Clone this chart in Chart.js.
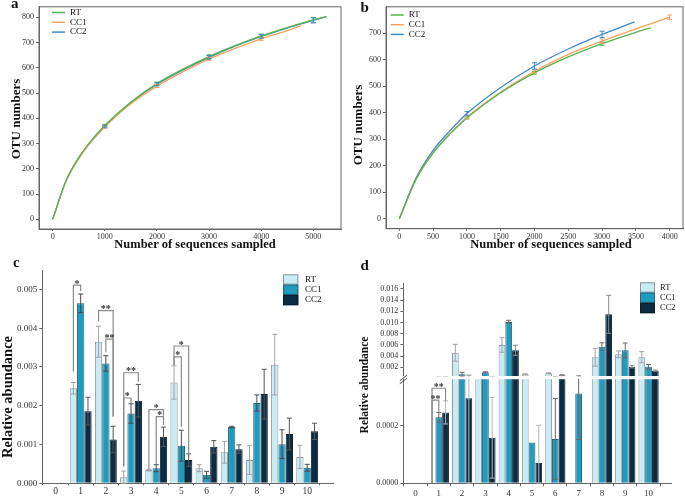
<!DOCTYPE html>
<html>
<head>
<meta charset="utf-8">
<script src="https://cdn.jsdelivr.net/npm/chart.js@4.4.1/dist/chart.umd.min.js"></script>
<style>
  body { margin: 0; background: #fff; }
  #fig { position: relative; width: 685px; height: 496px; overflow: hidden; }
  #fig canvas { position: absolute; }
</style>
</head>
<body>
<div id="fig">
  <canvas id="ca" width="345" height="256" style="left:0;top:0"></canvas>
  <canvas id="cb" width="345" height="256" style="left:340px;top:0"></canvas>
  <canvas id="cc" width="345" height="246" style="left:0;top:250px"></canvas>
  <canvas id="cdu" width="345" height="246" style="left:340px;top:250px"></canvas>
  <canvas id="cdl" width="345" height="246" style="left:340px;top:250px"></canvas>
</div>
<script>
const groups = ['RT', 'CC1', 'CC2'];

// a: rarefaction curves, first sample set
const seqRtA  = [0, 250, 500, 750, 1000, 1500, 2000, 2500, 3000, 3500, 4000, 4500, 5000, 5250];
const rtA     = [0, 150, 245, 315, 372, 465, 538, 595, 645, 688, 727, 760, 790, 803];
const seqCc1A = [0, 250, 500, 750, 1000, 1500, 2000, 2500, 3000, 3500, 4000, 4500, 4760];
const cc1A    = [0, 148, 240, 310, 366, 458, 528, 585, 636, 677, 715, 748, 767];
const seqCc2A = [0, 250, 500, 750, 1000, 1500, 2000, 2500, 3000, 3500, 4000, 4500, 5000, 5250];
const cc2A    = [0, 149, 243, 312, 368, 462, 535, 592, 642, 686, 725, 758, 788, 803];
const errXA   = [1000, 2000, 3000, 4000, 5000];
const rtErrA  = [5, 6, 7, 7, 10];
const cc1ErrA = [5, 6, 6, 6, null];
const cc2ErrA = [5, 6, 7, 7, 10];
const tickXA  = [0, 1000, 2000, 3000, 4000, 5000];
const tickYA  = [0, 100, 200, 300, 400, 500, 600, 700, 800];

// b: rarefaction curves, second sample set
const seqRtB  = [0, 250, 500, 750, 1000, 1500, 2000, 2500, 3000, 3500, 3720];
const rtB     = [0, 150, 248, 320, 380, 475, 550, 610, 660, 703, 720];
const seqCc1B = [0, 250, 500, 750, 1000, 1500, 2000, 2500, 3000, 3500, 4000];
const cc1B    = [0, 150, 248, 321, 383, 478, 556, 620, 670, 716, 760];
const seqCc2B = [0, 250, 500, 750, 1000, 1500, 2000, 2500, 3000, 3480];
const cc2B    = [0, 155, 258, 332, 397, 495, 576, 640, 695, 742];
const errXB   = [1000, 2000, 3000, 4000];
const rtErrB  = [4, 5, 6, null];
const cc1ErrB = [6, 6, 8, 8];
const cc2ErrB = [7, 12, 12, null];
const tickXB  = [0, 500, 1000, 1500, 2000, 2500, 3000, 3500, 4000];
const tickYB  = [0, 100, 200, 300, 400, 500, 600, 700];

// c: relative abundance
const cats = [1, 2, 3, 4, 5, 6, 7, 8, 9, 10];
const tickXC = [0, 1, 2, 3, 4, 5, 6, 7, 8, 9, 10];
const tickYC = [0, 0.001, 0.002, 0.003, 0.004, 0.005];
const rtC    = [0.00245, 0.00365, 0.000155, 0.00034, 0.0026, 0.00039, 0.0008, 0.0006, 0.00306, 0.00068];
const rtCe   = [0.00015, 0.0004, 0.00016, 0.00002, 0.00043, 0.00009, 0.00028, 0.00037, 0.00078, 0.0003];
const cc1C   = [0.00464, 0.00309, 0.0018, 0.00039, 0.00097, 0.00022, 0.00145, 0.00207, 0.00101, 0.0004];
const cc1Ce  = [0.00024, 0.0002, 0.00025, 0.00009, 0.0004, 0.00009, 0.00002, 0.00021, 0.00037, 0.00009];
const cc2C   = [0.00186, 0.00113, 0.00213, 0.0012, 0.0006, 0.00094, 0.00088, 0.0023, 0.00127, 0.00134];
const cc2Ce  = [0.00036, 0.00034, 0.00042, 0.00025, 0.00016, 0.00016, 0.00011, 0.00064, 0.00041, 0.00021];
// significance brackets: category, from group, to group, bar height, left leg end, right leg end, mark
const sigC = [
  [1, 0, 1, 0.00511, 0.00288, 0.00496, '*'],
  [2, 0, 2, 0.00445, 0.00417, 0.00172, '**'],
  [2, 1, 2, 0.00372, 0.00339, 0.00172, '**'],
  [3, 0, 2, 0.00285, 0.00043, 0.00262, '**'],
  [3, 0, 1, 0.0022, 0.00043, 0.00206, '*'],
  [4, 0, 2, 0.0019, 0.00037, 0.00172, '*'],
  [4, 1, 2, 0.00172, 0.00049, 0.0015, '*'],
  [5, 0, 2, 0.00354, 0.00305, 0.00077, '*'],
  [5, 0, 1, 0.00326, 0.00305, 0.00146, '*']
];

// d: relative abundance, broken axis
const tickYDU = [0.002, 0.004, 0.006, 0.008, 0.010, 0.012, 0.014, 0.016];
const tickYDL = [0, 0.0002];
const rtD   = [0, 0.0046, 0.0004, 0.006, 0.00075, 0.00093, 0, 0.0038, 0.00432, 0.0038];
const rtDe  = [0, 0.0015, 0, 0.0013, 0.0001, 0.0001, 0, 0.0016, 0.0006, 0.001];
const cc1D  = [0.000229, 0.00075, 0.0011, 0.0101, 0.000142, 0.000154, 0.000312, 0.00568, 0.00504, 0.0021];
const cc1De = [0.000017, 0.00036, 0.0001, 0.0003, 0, 0.00014, 0.00016, 0.0007, 0.0013, 0.0004];
const cc2D  = [0.000246, 0.000295, 0.000158, 0.00504, 0.0000716, 0.0006, 0, 0.01146, 0.0021, 0.0014];
const cc2De = [0.00004, 0.0003, 0.00014, 0.0009, 0.00013, 0.0001, 0, 0.0034, 0.0002, 0.0001];
const sigD = [
  [1, 0, 2, 0.00033, 0, 0.000286, '**'],
  [1, 0, 1, 0.000289, 0, 0.000248, '**']
];

const serif = "'Liberation Serif', 'Times New Roman', serif";
Chart.defaults.font.family = serif;
Chart.defaults.color = '#333';
const lineColors = ['#56b451', '#f3a35f', '#3f89c6'];
const barColors = ['#c8ebf4', '#1f9bc0', '#0b2c42'];
const barBorders = ['#8d979b', '#2a6478', '#0a1f2e'];

function pts(xs, ys) { return xs.map((x, i) => ({ x: x, y: ys[i] })); }

function drawText(ctx, s, x, y, size, o = {}) {
  ctx.save();
  ctx.font = (o.bold ? 'bold ' : '') + size + 'px ' + serif;
  ctx.fillStyle = o.color || '#111';
  ctx.textAlign = o.align || 'center';
  ctx.textBaseline = o.base || 'middle';
  ctx.translate(x, y);
  if (o.rot) ctx.rotate(o.rot);
  ctx.fillText(s, 0, 0);
  ctx.restore();
}

function linScale(min, max, tickVals, size, width, fmt, tl, pad) {
  return {
    type: 'linear', min: min, max: max,
    ticks: { maxRotation: 0, autoSkip: false, font: { size: size }, padding: pad, callback: fmt },
    grid: { drawOnChartArea: false, tickLength: tl, color: '#666' },
    border: { color: '#666' },
    afterBuildTicks: s => { s.ticks = tickVals.map(v => ({ value: v })); },
    afterFit: s => { if (s.isHorizontal()) s.height = width; else s.width = width; }
  };
}

// frame, error bars, legend and titles of the rarefaction panels
function curveDeco(cfg) {
  return {
    id: 'curveDeco',
    afterDraw(chart) {
      const { ctx, chartArea: a, scales: { x, y } } = chart;
      ctx.save();
      ctx.lineWidth = 1;
      ctx.strokeStyle = '#666';
      ctx.strokeRect(a.left, a.top, a.width, a.height);
      cfg.err.forEach((errs, s) => {
        const xs = cfg.xs[s], ys = cfg.ys[s];
        ctx.strokeStyle = lineColors[s];
        cfg.errX.forEach((ex, k) => {
          const e = errs[k], i = xs.indexOf(ex);
          if (e == null || i < 0) return;
          const px = x.getPixelForValue(ex);
          const y1 = y.getPixelForValue(ys[i] + e), y2 = y.getPixelForValue(ys[i] - e);
          ctx.beginPath();
          ctx.moveTo(px, y1); ctx.lineTo(px, y2);
          ctx.moveTo(px - 2.5, y1); ctx.lineTo(px + 2.5, y1);
          ctx.moveTo(px - 2.5, y2); ctx.lineTo(px + 2.5, y2);
          ctx.stroke();
        });
      });
      const L = cfg.legend;
      groups.forEach((g, s) => {
        const yy = L.y + s * L.dy;
        ctx.strokeStyle = lineColors[s];
        ctx.lineWidth = 1.5;
        ctx.beginPath(); ctx.moveTo(L.x, yy); ctx.lineTo(L.x + 13, yy); ctx.stroke();
        drawText(ctx, g, L.x + 18, yy, 9, { align: 'left' });
      });
      ctx.restore();
      cfg.texts.forEach(t => drawText(ctx, t[0], t[1], t[2], t[3], t[4]));
    }
  };
}

function curveChart(id, series, xr, yr, xTicks, yTicks, pad, yw, xh, deco) {
  return new Chart(document.getElementById(id), {
    type: 'line',
    data: {
      datasets: series.map((d, s) => ({
        label: groups[s], data: d, borderColor: lineColors[s], borderWidth: 1.3,
        pointRadius: 0, cubicInterpolationMode: 'monotone'
      }))
    },
    options: {
      responsive: false, animation: false, devicePixelRatio: 1,
      layout: { padding: pad },
      plugins: { legend: { display: false }, tooltip: { enabled: false } },
      scales: {
        x: linScale(xr[0], xr[1], xTicks, 8, xh, v => String(v), 2, 1),
        y: linScale(yr[0], yr[1], yTicks, 8, yw, v => String(v), 3, 2)
      }
    },
    plugins: [curveDeco(deco)]
  });
}

curveChart('ca', [pts(seqRtA, rtA), pts(seqCc1A, cc1A), pts(seqCc2A, cc2A)],
  [-262, 5531], [-38, 842], tickXA, tickYA, { left: 0, top: 5, right: 4, bottom: 0 }, 39, 27, {
    xs: [seqRtA, seqCc1A, seqCc2A], ys: [rtA, cc1A, cc2A],
    errX: errXA, err: [rtErrA, cc1ErrA, cc2ErrA],
    legend: { x: 52, y: 12.5, dy: 9.8 },
    texts: [
      ['a', 11, 7.5, 15, { bold: true, align: 'left', base: 'alphabetic' }],
      ['OTU numbers', 17, 119, 13, { bold: true, rot: -Math.PI / 2 }],
      ['Number of sequences sampled', 195, 245, 12.5, { bold: true }]
    ]
  });

curveChart('cb', [pts(seqRtB, rtB), pts(seqCc1B, cc1B), pts(seqCc2B, cc2B)],
  [-197, 4197], [-37.5, 799], tickXB, tickYB, { left: 0, top: 5, right: 2, bottom: 0 }, 46, 27.3, {
    xs: [seqRtB, seqCc1B, seqCc2B], ys: [rtB, cc1B, cc2B],
    errX: errXB, err: [rtErrB, cc1ErrB, cc2ErrB],
    legend: { x: 50.7, y: 15, dy: 9.7 },
    texts: [
      ['b', 20.5, 11.5, 15, { bold: true, align: 'left', base: 'alphabetic' }],
      ['OTU numbers', 19, 125, 13, { bold: true, rot: -Math.PI / 2 }],
      ['Number of sequences sampled', 211, 245, 12.5, { bold: true }]
    ]
  });

// error bars, brackets, legend and titles of the bar panels
function barDeco(cfg) {
  return {
    id: 'barDeco',
    afterDatasetsDraw(chart) {
      const { ctx, chartArea: a, scales: { y } } = chart;
      ctx.save();
      ctx.beginPath();
      ctx.rect(a.left, a.top - 0.5, a.width, a.height + 1);
      ctx.clip();
      ctx.lineWidth = 1;
      cfg.err.forEach((errs, s) => {
        const meta = chart.getDatasetMeta(s);
        ctx.strokeStyle = cfg.errColors[s];
        errs.forEach((e, i) => {
          if (!e) return;
          const v = cfg.vals[s][i], px = meta.data[i].x;
          const y1 = y.getPixelForValue(v + e), y2 = y.getPixelForValue(Math.max(0, v - e));
          ctx.beginPath();
          ctx.moveTo(px, y1); ctx.lineTo(px, y2);
          ctx.moveTo(px - 2.5, y1); ctx.lineTo(px + 2.5, y1);
          ctx.moveTo(px - 2.5, y2); ctx.lineTo(px + 2.5, y2);
          ctx.stroke();
        });
      });
      ctx.strokeStyle = '#8a8a8a';
      ctx.lineWidth = 1.2;
      (cfg.sig || []).forEach(b => {
        const xa = chart.getDatasetMeta(b[1]).data[b[0] - 1].x;
        const xb = chart.getDatasetMeta(b[2]).data[b[0] - 1].x;
        const yt = y.getPixelForValue(b[3]);
        ctx.beginPath();
        ctx.moveTo(xa, y.getPixelForValue(b[4]));
        ctx.lineTo(xa, yt); ctx.lineTo(xb, yt);
        ctx.lineTo(xb, y.getPixelForValue(b[5]));
        ctx.stroke();
        drawText(ctx, b[6], (xa + xb) / 2, yt + 1.5, 10, { bold: true, base: 'alphabetic', color: '#333' });
      });
      ctx.restore();
      const L = cfg.legend;
      if (L) {
        ctx.save();
        groups.forEach((g, s) => {
          const yy = L.y + s * L.h;
          ctx.fillStyle = barColors[s];
          ctx.fillRect(L.x, yy, L.w, L.h);
          ctx.strokeStyle = barBorders[s];
          ctx.lineWidth = 1;
          ctx.strokeRect(L.x + 0.5, yy + 0.5, L.w - 1, L.h - 1);
          drawText(ctx, g, L.tx, yy + L.h / 2, L.size, { align: 'left' });
        });
        ctx.restore();
      }
      if (cfg.brk) {
        ctx.save();
        ctx.strokeStyle = '#444';
        ctx.lineWidth = 1;
        ctx.beginPath();
        ctx.moveTo(a.left - 3.5, a.top + 1.5); ctx.lineTo(a.left + 3.5, a.top - 4);
        ctx.moveTo(a.left - 3.5, a.top + 4.5); ctx.lineTo(a.left + 3.5, a.top - 1);
        ctx.stroke();
        ctx.restore();
      }
      (cfg.texts || []).forEach(t => drawText(ctx, t[0], t[1], t[2], t[3], t[4]));
    }
  };
}

function barChart(id, vals, xMax, yr, yTicks, yFmt, pad, yw, xh, tf, deco) {
  return new Chart(document.getElementById(id), {
    type: 'bar',
    data: {
      datasets: vals.map((v, s) => ({
        label: groups[s], data: pts(cats, v),
        backgroundColor: barColors[s], borderColor: barBorders[s], borderWidth: 1,
        categoryPercentage: 0.87, barPercentage: 1, clip: 0
      }))
    },
    options: {
      responsive: false, animation: false, devicePixelRatio: 1,
      layout: { padding: pad },
      plugins: { legend: { display: false }, tooltip: { enabled: false } },
      scales: {
        x: Object.assign(linScale(0, xMax, tickXC, tf.x, xh, v => String(v), tf.xtl, tf.xpad), { display: xh > 0 }),
        y: linScale(yr[0], yr[1], yTicks, tf.y, yw, yFmt, tf.ytl, 2)
      }
    },
    plugins: [barDeco(Object.assign({ vals: vals }, deco))]
  });
}

barChart('cc', [rtC, cc1C, cc2C], 10.5, [0, 0.0055], tickYC, v => v.toFixed(3),
  { left: 0, top: 20, right: 12, bottom: 0 }, 42.3, 12.7, { x: 9.5, y: 9, xtl: 2, xpad: 0, ytl: 3 }, {
    err: [rtCe, cc1Ce, cc2Ce], errColors: ['#a3a3a3', '#4a4a4a', '#555'],
    sig: sigC,
    legend: { x: 283, y: 24.3, w: 15.3, h: 10.3, tx: 305, size: 9 },
    texts: [
      ['c', 13, 16.7, 15, { bold: true, align: 'left', base: 'alphabetic' }],
      ['Relative abundance', 8, 147, 14.5, { bold: true, rot: -Math.PI / 2 }]
    ]
  });

barChart('cdu', [rtD, cc1D, cc2D], 10.47, [0.00045, 0.017], tickYDU, v => v.toFixed(3),
  { left: 0, top: 33.3, right: 13.3, bottom: 120 }, 63.3, 0, { x: 9, y: 8, xtl: 3, xpad: 2, ytl: 3 }, {
    err: [rtDe, cc1De, cc2De], errColors: ['#a3a3a3', '#6a6a6a', '#8a8a8a'],
    legend: { x: 300, y: 32.3, w: 15, h: 10.3, tx: 320, size: 8.5 }
  });

barChart('cdl', [rtD, cc1D, cc2D], 10.47, [0, 0.000361], tickYDL, v => v.toFixed(4),
  { left: 0, top: 129.3, right: 13.3, bottom: 0 }, 63.3, 12.7, { x: 9, y: 8, xtl: 3, xpad: 2, ytl: 3 }, {
    err: [rtDe, cc1De, cc2De], errColors: ['#a3a3a3', '#6a6a6a', '#b5b5b5'],
    sig: sigD, brk: true,
    texts: [
      ['d', 20.5, 20, 15, { bold: true, align: 'left', base: 'alphabetic' }],
      ['Relative abundance', 25, 135, 11.5, { bold: true, rot: -Math.PI / 2 }]
    ]
  });
</script>
</body>
</html>
